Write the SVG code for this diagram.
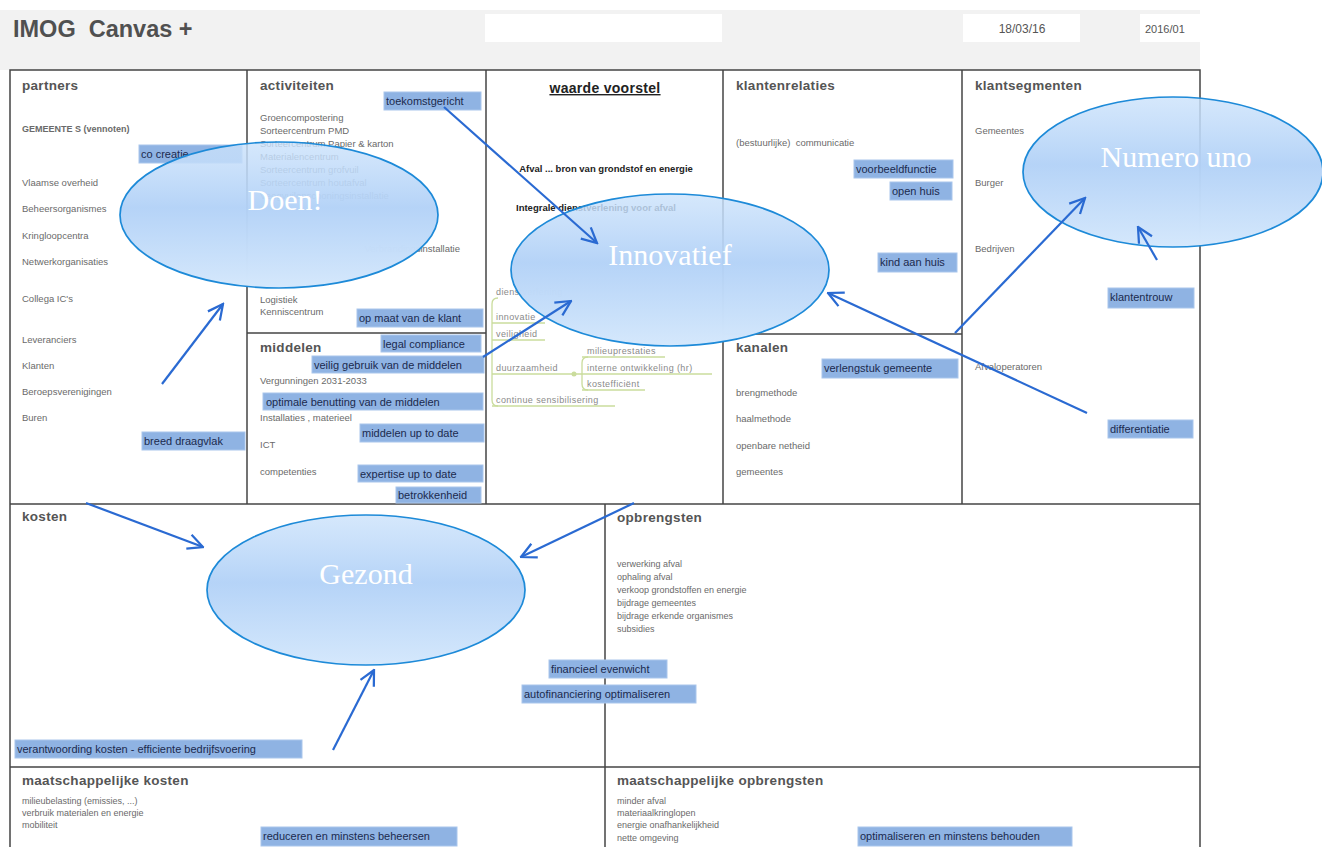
<svg xmlns="http://www.w3.org/2000/svg" width="1322" height="847" viewBox="0 0 1322 847">
<defs>
<style>
.hd{font-family:"Liberation Sans",Arial,sans-serif;font-weight:bold;font-size:13.5px;fill:#555;letter-spacing:0.3px}
.ls{font-family:"Liberation Sans",Arial,sans-serif;font-size:9.5px;fill:#6a6a6a}
.sm{font-family:"Liberation Sans",Arial,sans-serif;font-size:9px;fill:#6a6a6a}
.mm{font-family:"Liberation Sans",Arial,sans-serif;font-size:9px;fill:#8a8a8a;letter-spacing:0.4px}
.hl{fill:#8fb3e3;stroke:#a9c6ec;stroke-width:1}
.ht{font-family:"Liberation Sans",Arial,sans-serif;font-size:11px;fill:#1b2a4e}
.grid{stroke:#444;stroke-width:1.5;fill:none}
.ell{fill:url(#eg);stroke:#1d8ad8;stroke-width:1.7}
.et{font-family:"Liberation Serif","Times New Roman",serif;font-size:30px;fill:#fff;text-anchor:middle}
.arr{stroke:#2a6ad2;stroke-width:2.2;fill:none;marker-end:url(#ah)}
.mml{stroke:#cadc9c;stroke-width:1.3;fill:none}
</style>
<linearGradient id="eg" x1="0" y1="0" x2="0" y2="1">
<stop offset="0" stop-color="#cbe2fb" stop-opacity="0.8"/>
<stop offset="0.45" stop-color="#b3d2f7" stop-opacity="0.97"/>
<stop offset="1" stop-color="#d5e8fc" stop-opacity="1"/>
</linearGradient>
<marker id="ah" viewBox="0 0 12 12" refX="11" refY="6" markerWidth="18" markerHeight="18" markerUnits="userSpaceOnUse" orient="auto">
<path d="M1,1 L11,6 L1,11" stroke="#2a6ad2" stroke-width="1.5" fill="none"/>
</marker>
</defs>
<rect x="0" y="0" width="1322" height="847" fill="#fff"/>
<g id="header">
<rect x="0" y="10" width="1200" height="60" fill="#f2f2f2"/>
<text x="13" y="37" font-family="Liberation Sans,Arial,sans-serif" font-weight="bold" font-size="23.5" fill="#505050" xml:space="preserve">IMOG  Canvas +</text>
<rect x="485" y="14" width="237" height="28" fill="#fff"/>
<rect x="963" y="14" width="117" height="28" fill="#fff"/>
<text x="1022" y="33" text-anchor="middle" font-family="Liberation Sans,Arial,sans-serif" font-size="12" fill="#555">18/03/16</text>
<rect x="1140" y="14" width="60" height="28" fill="#fff"/>
<text x="1145" y="33" font-family="Liberation Sans,Arial,sans-serif" font-size="11" fill="#555">2016/01</text>
</g>
<g id="grid">
<rect class="grid" x="10" y="70" width="1190" height="790"/>
<line class="grid" x1="247" y1="70" x2="247" y2="504"/>
<line class="grid" x1="486" y1="70" x2="486" y2="504"/>
<line class="grid" x1="723" y1="70" x2="723" y2="504"/>
<line class="grid" x1="962" y1="70" x2="962" y2="504"/>
<line class="grid" x1="247" y1="333" x2="486" y2="333"/>
<line class="grid" x1="723" y1="334" x2="962" y2="334"/>
<line class="grid" x1="10" y1="504" x2="1200" y2="504" stroke-width="2"/>
<line class="grid" x1="605" y1="504" x2="605" y2="847"/>
<line class="grid" x1="10" y1="767" x2="1200" y2="767" stroke-width="2"/>
</g>
<g id="partners">
<text class="hd" x="22" y="90">partners</text>
<text class="sm" x="22" y="132" font-weight="bold" fill="#777">GEMEENTE S (vennoten)</text>
<rect class="hl" x="139" y="145" width="103" height="18"/>
<text class="ht" x="141" y="158">co creatie</text>
<text class="ls" x="22" y="186">Vlaamse overheid</text>
<text class="ls" x="22" y="212">Beheersorganismes</text>
<text class="ls" x="22" y="239">Kringloopcentra</text>
<text class="ls" x="22" y="265">Netwerkorganisaties</text>
<text class="ls" x="22" y="302">Collega IC's</text>
<text class="ls" x="22" y="343">Leveranciers</text>
<text class="ls" x="22" y="369">Klanten</text>
<text class="ls" x="22" y="395">Beroepsverenigingen</text>
<text class="ls" x="22" y="421">Buren</text>
<rect class="hl" x="142" y="432" width="103" height="18"/>
<text class="ht" x="144" y="445">breed draagvlak</text>
</g>
<g id="activiteiten">
<text class="hd" x="260" y="90">activiteiten</text>
<rect class="hl" x="384" y="92" width="97" height="18"/>
<text class="ht" x="386" y="105">toekomstgericht</text>
<text class="ls" x="260" y="121">Groencompostering</text>
<text class="ls" x="260" y="134">Sorteercentrum PMD</text>
<text class="ls" x="260" y="147">Sorteercentrum Papier &amp; karton</text>
<text class="ls" x="260" y="160">Materialencentrum</text>
<text class="ls" x="260" y="173">Sorteercentrum grofvuil</text>
<text class="ls" x="260" y="186">Sorteercentrum houtafval</text>
<text class="ls" x="260" y="199">Veegvuilopschoningsinstallatie</text>
<text class="ls" x="460" y="252" text-anchor="end">Verbrandingsinstallatie</text>
<text class="ls" x="260" y="303">Logistiek</text>
<text class="ls" x="260" y="315">Kenniscentrum</text>
<rect class="hl" x="357" y="309" width="126" height="18"/>
<text class="ht" x="359" y="322">op maat van de klant</text>
</g>
<g id="middelen">
<text class="hd" x="260" y="352">middelen</text>
<rect class="hl" x="381" y="335" width="100" height="17"/>
<text class="ht" x="383" y="348">legal compliance</text>
<rect class="hl" x="312" y="356" width="172" height="17"/>
<text class="ht" x="314" y="369">veilig gebruik van de middelen</text>
<text class="ls" x="260" y="384">Vergunningen 2031-2033</text>
<rect class="hl" x="263" y="393" width="220" height="17"/>
<text class="ht" x="266" y="406">optimale benutting van de middelen</text>
<text class="ls" x="260" y="421">Installaties , materieel</text>
<rect class="hl" x="360" y="424" width="124" height="18"/>
<text class="ht" x="362" y="437">middelen up to date</text>
<text class="ls" x="260" y="448">ICT</text>
<text class="ls" x="260" y="475">competenties</text>
<rect class="hl" x="358" y="465" width="125" height="17"/>
<text class="ht" x="360" y="478">expertise up to date</text>
<rect class="hl" x="396" y="487" width="85" height="16"/>
<text class="ht" x="398" y="499">betrokkenheid</text>
</g>
<g id="waarde-voorstel">
<text x="605" y="93" text-anchor="middle" font-family="Liberation Sans,Arial,sans-serif" font-weight="bold" font-size="14" fill="#222" text-decoration="underline" letter-spacing="0.3">waarde voorstel</text>
<text x="606" y="172" text-anchor="middle" font-family="Liberation Sans,Arial,sans-serif" font-weight="bold" font-size="9.5" fill="#222">Afval ... bron van grondstof en energie</text>
<text x="516" y="211" font-family="Liberation Sans,Arial,sans-serif" font-weight="bold" font-size="9.5" fill="#222">Integrale dienstverlening voor afval</text>
<path class="mml" d="M498,298 Q492,298 492,304 L492,400 Q492,406 498,406"/>
<line class="mml" x1="492" y1="323" x2="545" y2="323"/>
<line class="mml" x1="492" y1="340" x2="545" y2="340"/>
<line class="mml" x1="492" y1="374" x2="572" y2="374"/>
<line class="mml" x1="492" y1="406" x2="615" y2="406"/>
<path class="mml" d="M572,374 L582,374 M588,357 Q582,357 582,363 L582,384 Q582,390 588,390"/>
<circle cx="574" cy="374" r="2.5" fill="#cadc9c"/>
<line class="mml" x1="582" y1="357" x2="665" y2="357"/>
<line class="mml" x1="582" y1="374" x2="712" y2="374"/>
<line class="mml" x1="582" y1="390" x2="645" y2="390"/>
<text class="mm" x="496" y="295">dienstverlening</text>
<text class="mm" x="496" y="320">innovatie</text>
<text class="mm" x="496" y="337">veiligheid</text>
<text class="mm" x="496" y="371">duurzaamheid</text>
<text class="mm" x="496" y="403">continue sensibilisering</text>
<text class="mm" x="587" y="354">milieuprestaties</text>
<text class="mm" x="587" y="371">interne ontwikkeling (hr)</text>
<text class="mm" x="587" y="387">kostefficiënt</text>
</g>
<g id="klantenrelaties">
<text class="hd" x="736" y="90">klantenrelaties</text>
<text class="ls" x="736" y="146" xml:space="preserve">(bestuurlijke)  communicatie</text>
<rect class="hl" x="854" y="160" width="99" height="18"/>
<text class="ht" x="856" y="173">voorbeeldfunctie</text>
<rect class="hl" x="890" y="182" width="62" height="18"/>
<text class="ht" x="892" y="195">open huis</text>
<rect class="hl" x="878" y="253" width="79" height="19"/>
<text class="ht" x="880" y="266">kind aan huis</text>
</g>
<g id="kanalen">
<text class="hd" x="736" y="352">kanalen</text>
<rect class="hl" x="822" y="359" width="136" height="19"/>
<text class="ht" x="824" y="372">verlengstuk gemeente</text>
<text class="ls" x="736" y="396">brengmethode</text>
<text class="ls" x="736" y="422">haalmethode</text>
<text class="ls" x="736" y="449">openbare netheid</text>
<text class="ls" x="736" y="475">gemeentes</text>
</g>
<g id="klantsegmenten">
<text class="hd" x="975" y="90">klantsegmenten</text>
<text class="ls" x="975" y="134">Gemeentes</text>
<text class="ls" x="975" y="186">Burger</text>
<text class="ls" x="975" y="252">Bedrijven</text>
<rect class="hl" x="1108" y="288" width="86" height="20"/>
<text class="ht" x="1110" y="301">klantentrouw</text>
<text class="ls" x="975" y="370">Afvaloperatoren</text>
<rect class="hl" x="1108" y="420" width="85" height="18"/>
<text class="ht" x="1110" y="433">differentiatie</text>
</g>
<g id="kosten">
<text class="hd" x="22" y="521">kosten</text>
<rect class="hl" x="15" y="740" width="287" height="18"/>
<text class="ht" x="17" y="753">verantwoording kosten - efficiente bedrijfsvoering</text>
</g>
<g id="opbrengsten">
<text class="hd" x="617" y="522">opbrengsten</text>
<text class="sm" x="617" y="567">verwerking afval</text>
<text class="sm" x="617" y="580">ophaling afval</text>
<text class="sm" x="617" y="593">verkoop grondstoffen en energie</text>
<text class="sm" x="617" y="606">bijdrage gemeentes</text>
<text class="sm" x="617" y="619">bijdrage erkende organismes</text>
<text class="sm" x="617" y="632">subsidies</text>
<rect class="hl" x="549" y="660" width="118" height="18"/>
<text class="ht" x="551" y="673">financieel evenwicht</text>
<rect class="hl" x="522" y="685" width="174" height="18"/>
<text class="ht" x="524" y="698">autofinanciering optimaliseren</text>
</g>
<g id="maatschappelijke-kosten">
<text class="hd" x="22" y="785">maatschappelijke kosten</text>
<text class="sm" x="22" y="804">milieubelasting (emissies, ...)</text>
<text class="sm" x="22" y="816">verbruik materialen en energie</text>
<text class="sm" x="22" y="828">mobiliteit</text>
<rect class="hl" x="261" y="827" width="196" height="19"/>
<text class="ht" x="263" y="840">reduceren en minstens beheersen</text>
</g>
<g id="maatschappelijke-opbrengsten">
<text class="hd" x="617" y="785">maatschappelijke opbrengsten</text>
<text class="sm" x="617" y="804">minder afval</text>
<text class="sm" x="617" y="816">materiaalkringlopen</text>
<text class="sm" x="617" y="828">energie onafhankelijkheid</text>
<text class="sm" x="617" y="841">nette omgeving</text>
<rect class="hl" x="858" y="827" width="214" height="19"/>
<text class="ht" x="860" y="840">optimaliseren en minstens behouden</text>
</g>
<g id="doen">
<ellipse class="ell" cx="279" cy="215" rx="159" ry="73"/>
<text class="et" x="285" y="210">Doen!</text>
</g>
<g id="innovatief">
<ellipse class="ell" cx="670" cy="270" rx="159" ry="76"/>
<text class="et" x="670" y="265">Innovatief</text>
</g>
<g id="numero-uno">
<ellipse class="ell" cx="1173" cy="172" rx="150" ry="75"/>
<text class="et" x="1176" y="167">Numero uno</text>
</g>
<g id="gezond">
<ellipse class="ell" cx="366" cy="590" rx="159" ry="75"/>
<text class="et" x="366" y="584">Gezond</text>
</g>
<g id="connectors">
<line class="arr" x1="444" y1="107" x2="597" y2="243"/>
<line class="arr" x1="162" y1="384" x2="223" y2="304"/>
<line class="arr" x1="483" y1="357" x2="571" y2="301"/>
<line class="arr" x1="1087" y1="413" x2="828" y2="293"/>
<line class="arr" x1="955" y1="333" x2="1085" y2="198"/>
<line class="arr" x1="1157" y1="260" x2="1138" y2="227"/>
<line class="arr" x1="86" y1="503" x2="203" y2="547"/>
<line class="arr" x1="634" y1="503" x2="521" y2="557"/>
<line class="arr" x1="333" y1="750" x2="374" y2="670"/>
</g>
</svg>
